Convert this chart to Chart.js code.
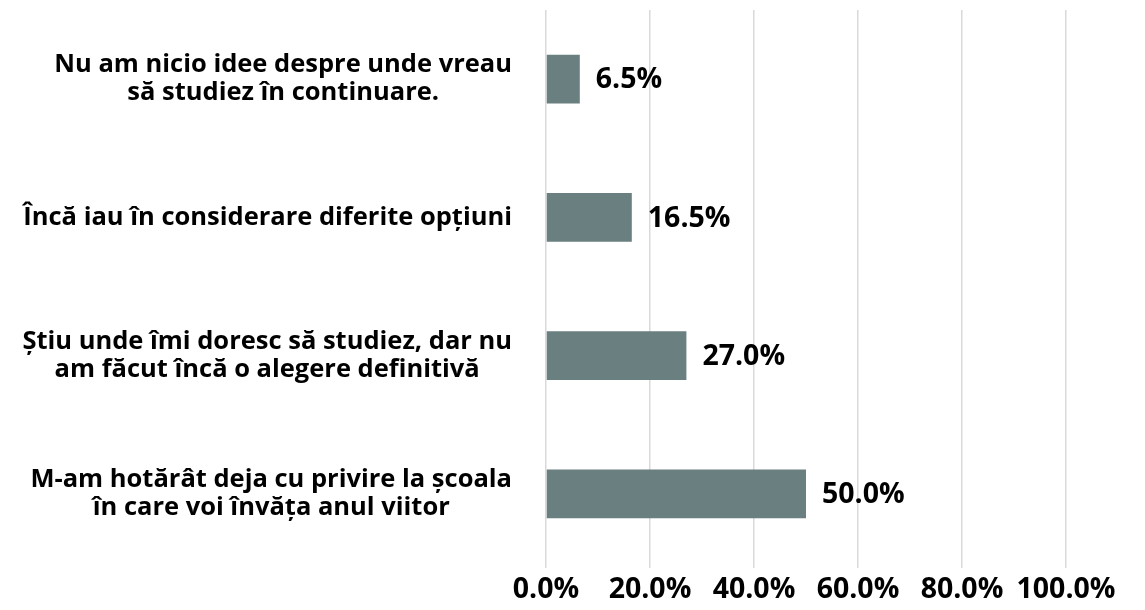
<!doctype html>
<html lang="ro">
<head>
    <meta charset="utf-8">
    <title>Unde vreau să studiez</title>
    <script src="https://cdn.jsdelivr.net/npm/chart.js"></script>
    <style>
        body {
            background-color: #ffffff;
            margin: 0;
            padding: 0;
        }
        .chart-box {
            width: 1145px;
            height: 610px;
        }
    </style>
</head>
<body>
    <div class="chart-box">
        <canvas id="mainChart"></canvas>
    </div>
    <script>
        const categories = [
            ['Nu am nicio idee despre unde vreau', 'să studiez în continuare.'],
            ['Încă iau în considerare diferite opțiuni'],
            ['Știu unde îmi doresc să studiez, dar nu', 'am făcut încă o alegere definitivă'],
            ['M-am hotărât deja cu privire la școala', 'în care voi învăța anul viitor']
        ];
        const values = [6.5, 16.5, 27.0, 50.0];
        const tickValues = [0, 20, 40, 60, 80, 100];

        const FONT = '"Open Sans", Lato, sans-serif';

        // draws the value next to each bar and the category text left of the axis
        const labelPlugin = {
            id: 'labelPlugin',
            afterDraw(chart) {
                const ctx = chart.ctx;
                const meta = chart.getDatasetMeta(0);
                const yScale = chart.scales.y;
                ctx.save();
                ctx.fillStyle = '#000000';

                ctx.font = 'bold 28.5px ' + FONT;
                ctx.textAlign = 'left';
                ctx.textBaseline = 'middle';
                meta.data.forEach((bar, i) => {
                    ctx.fillText(values[i].toFixed(1) + '%', bar.x + 16, bar.y + 1);
                });

                ctx.font = 'bold 25.5px ' + FONT;
                ctx.textAlign = 'center';
                const lineH = 28;
                const rightEdge = 512;
                categories.forEach((lines, i) => {
                    const yc = yScale.getPixelForValue(i);
                    const w = Math.max(...lines.map(l => ctx.measureText(l).width));
                    const cx = rightEdge - w / 2;
                    const y0 = yc - (lines.length - 1) * lineH / 2;
                    lines.forEach((l, j) => ctx.fillText(l, cx, y0 + j * lineH));
                });
                ctx.restore();
            }
        };

        new Chart(document.getElementById('mainChart').getContext('2d'), {
            type: 'bar',
            data: {
                labels: categories,
                datasets: [{
                    data: values,
                    backgroundColor: '#6a7f80',
                    categoryPercentage: 1.0,
                    barPercentage: 0.354
                }]
            },
            options: {
                indexAxis: 'y',
                animation: false,
                responsive: true,
                maintainAspectRatio: false,
                layout: { padding: { top: 10, right: 79, bottom: 0, left: 0 } },
                plugins: {
                    legend: { display: false },
                    tooltip: { enabled: false }
                },
                scales: {
                    x: {
                        min: 0,
                        max: 100,
                        afterBuildTicks: s => { s.ticks = tickValues.map(v => ({ value: v })); },
                        afterFit: s => { s.height = 47; },
                        border: { display: false },
                        grid: { color: '#d9d9d9', lineWidth: 1.5, drawTicks: true, tickLength: 5 },
                        ticks: {
                            padding: 5,
                            color: '#000000',
                            font: { family: FONT, size: 28.5, weight: 'bold' },
                            maxRotation: 0,
                            callback: v => v.toFixed(1) + '%'
                        }
                    },
                    y: {
                        afterFit: s => { s.width = 546; },
                        border: { display: false },
                        grid: { display: false },
                        ticks: { display: false }
                    }
                }
            },
            plugins: [labelPlugin]
        });
    </script>
</body>
</html>
